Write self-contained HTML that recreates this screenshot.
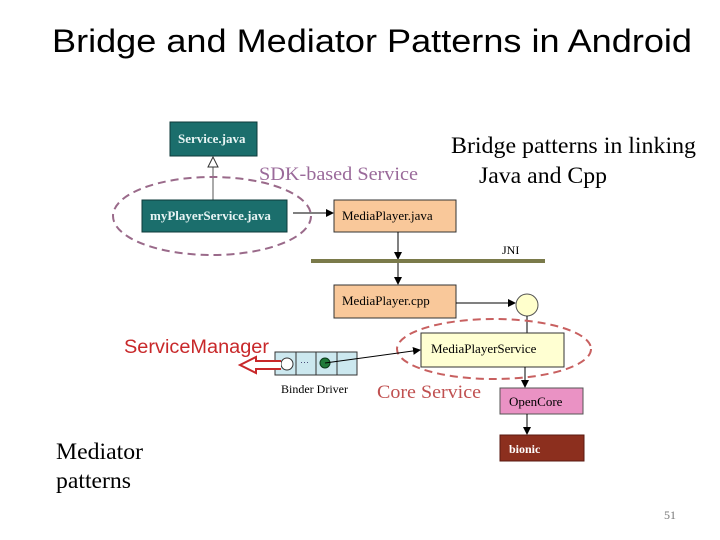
<!DOCTYPE html>
<html><head><meta charset="utf-8"><style>
html,body{margin:0;padding:0;background:#fff;}
svg{display:block;}
</style></head><body>
<svg width="720" height="540" viewBox="0 0 720 540" xmlns="http://www.w3.org/2000/svg">
<defs>
<marker id="ah" markerWidth="8" markerHeight="8" refX="7" refY="4" orient="auto" markerUnits="userSpaceOnUse"><path d="M0,0 L8,4 L0,8 z" fill="#000"/></marker>
</defs>
<rect width="720" height="540" fill="#fff"/>
<text x="52" y="52" font-family="Liberation Sans, sans-serif" font-size="32" textLength="640" lengthAdjust="spacingAndGlyphs">Bridge and Mediator Patterns in Android</text>

<rect x="170" y="122" width="87" height="34" fill="#1b6e6c" stroke="#0c3a3a"/>
<text x="178" y="143" font-family="Liberation Serif, serif" font-size="13" font-weight="bold" fill="#e8f4f4">Service.java</text>
<line x1="213" y1="200" x2="213" y2="166" stroke="#555"/>
<path d="M208,167 L213,157 L218,167 z" fill="#fff" stroke="#333"/>
<text x="259" y="180" font-family="Liberation Serif, serif" font-size="19" fill="#9a6a9a" textLength="159" lengthAdjust="spacingAndGlyphs">SDK-based Service</text>

<rect x="142" y="200" width="145" height="32" fill="#1b6e6c" stroke="#0c3a3a"/>
<text x="150" y="220" font-family="Liberation Serif, serif" font-size="13" font-weight="bold" fill="#e8f4f4">myPlayerService.java</text>
<ellipse cx="212" cy="216" rx="99" ry="39" fill="none" stroke="#9a6a8a" stroke-width="2" stroke-dasharray="8,5"/>
<line x1="293" y1="213" x2="333" y2="213" stroke="#000" marker-end="url(#ah)"/>

<rect x="334" y="200" width="122" height="32" fill="#f9c89a" stroke="#333"/>
<text x="342" y="220" font-family="Liberation Serif, serif" font-size="13">MediaPlayer.java</text>
<line x1="398" y1="232" x2="398" y2="259" stroke="#000" marker-end="url(#ah)"/>
<rect x="311" y="259" width="234" height="4" fill="#7a7a4a"/>
<text x="502" y="254" font-family="Liberation Serif, serif" font-size="12">JNI</text>
<line x1="398" y1="263" x2="398" y2="284" stroke="#000" marker-end="url(#ah)"/>

<rect x="334" y="285" width="122" height="33" fill="#f9c89a" stroke="#333"/>
<text x="342" y="305" font-family="Liberation Serif, serif" font-size="13">MediaPlayer.cpp</text>
<line x1="456" y1="303" x2="515" y2="303" stroke="#000" marker-end="url(#ah)"/>
<circle cx="527" cy="305" r="11" fill="#ffffcc" stroke="#555"/>
<line x1="527" y1="316" x2="527" y2="333" stroke="#000"/>

<rect x="421" y="333" width="143" height="34" fill="#ffffd2" stroke="#333"/>
<text x="431" y="353" font-family="Liberation Serif, serif" font-size="13">MediaPlayerService</text>
<ellipse cx="494" cy="349" rx="97" ry="30" fill="none" stroke="#c86060" stroke-width="2" stroke-dasharray="8,5"/>
<line x1="525" y1="367" x2="525" y2="387" stroke="#000" marker-end="url(#ah)"/>

<rect x="500" y="388" width="83" height="26" fill="#ea92c4" stroke="#555"/>
<text x="509" y="406" font-family="Liberation Serif, serif" font-size="13">OpenCore</text>
<line x1="527" y1="414" x2="527" y2="434" stroke="#000" marker-end="url(#ah)"/>
<rect x="500" y="435" width="84" height="26" fill="#8c2f1e" stroke="#5a1a10"/>
<text x="509" y="453" font-family="Liberation Serif, serif" font-size="12" font-weight="bold" fill="#fff">bionic</text>

<rect x="275" y="352" width="82" height="23" fill="#cce8ef" stroke="#333"/>
<line x1="296" y1="352" x2="296" y2="375" stroke="#333"/>
<line x1="316" y1="352" x2="316" y2="375" stroke="#333"/>
<line x1="337" y1="352" x2="337" y2="375" stroke="#333"/>
<circle cx="287" cy="364" r="6" fill="#fff" stroke="#333"/>
<text x="300" y="365" font-family="Liberation Sans, sans-serif" font-size="9" fill="#336">···</text>
<circle cx="325" cy="363" r="5" fill="#1f7a3a" stroke="#0b3a1a"/>
<line x1="325" y1="363" x2="420" y2="350" stroke="#000" marker-end="url(#ah)"/>
<text x="281" y="393" font-family="Liberation Serif, serif" font-size="12">Binder Driver</text>
<text x="377" y="398" font-family="Liberation Serif, serif" font-size="19" fill="#c05050" textLength="104" lengthAdjust="spacingAndGlyphs">Core Service</text>

<text x="124" y="353" font-family="Liberation Sans, sans-serif" font-size="19" fill="#c8282a" textLength="145" lengthAdjust="spacingAndGlyphs">ServiceManager</text>
<path d="M281,361 L256,361 L256,357 L240,365 L256,373 L256,369 L281,369" fill="#fff" stroke="#c8282a" stroke-width="2"/>

<text x="451" y="153" font-family="Liberation Serif, serif" font-size="23" textLength="245" lengthAdjust="spacingAndGlyphs">Bridge patterns in linking</text>
<text x="479" y="183" font-family="Liberation Serif, serif" font-size="23" textLength="128" lengthAdjust="spacingAndGlyphs">Java and Cpp</text>
<text x="56" y="459" font-family="Liberation Serif, serif" font-size="23" textLength="87" lengthAdjust="spacingAndGlyphs">Mediator</text>
<text x="56" y="488" font-family="Liberation Serif, serif" font-size="23" textLength="75" lengthAdjust="spacingAndGlyphs">patterns</text>
<text x="664" y="519" font-family="Liberation Serif, serif" font-size="12" fill="#777">51</text>
</svg>
</body></html>
